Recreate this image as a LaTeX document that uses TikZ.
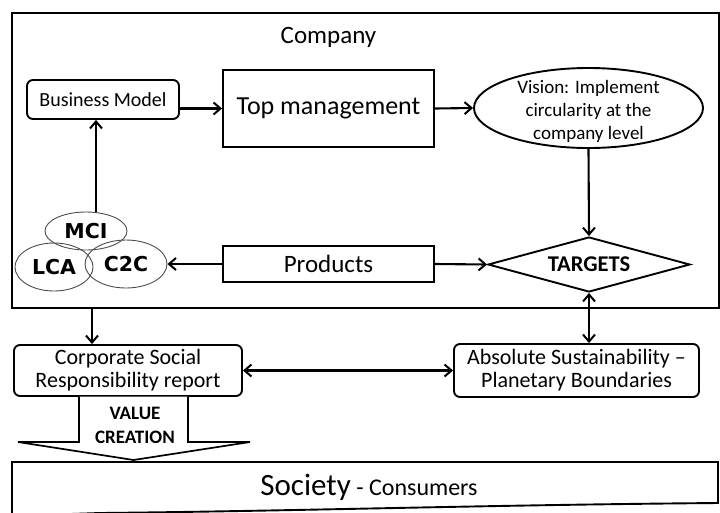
\documentclass[tikz,border=0pt]{standalone}
\usepackage{fontspec}
\setmainfont{Carlito}
\newfontfamily\verd{DejaVu Sans}
\usetikzlibrary{arrows.meta,shapes.geometric}
\begin{document}
\begin{tikzpicture}[x=1pt,y=-1pt,
  box/.style={draw,line width=1.9pt,inner sep=0pt,align=center},
  rbox/.style={box,rounded corners=6pt},
  circ/.style={draw=black!70,line width=0.9pt,ellipse,inner sep=0pt,font=\verd\bfseries\fontsize{20.5}{22}\selectfont},
  tip/.tip={Straight Barb[length=7pt,width=12pt,line width=2pt]},
  arr/.style={-tip,line width=2.1pt},
  darr/.style={tip-tip,line width=2.1pt}
]
\useasboundingbox (0,0) rectangle (720,512);
% Company frame
\node[box,minimum width=707pt,minimum height=295pt] (company) at (365.5,160.5) {};
\node[anchor=base,font=\fontsize{25}{30}\selectfont] (ctitle) at (328.5,43) {Company};
% nodes inside company
\node[rbox,minimum width=152pt,minimum height=39pt,font=\fontsize{20}{24}\selectfont] (bm) at (103,99.5) {Business Model};
\node[box,minimum width=211pt,minimum height=77pt,font=\fontsize{26}{30}\selectfont] (tm) at (328.5,108.5) {Top management};
\node[box,ellipse,minimum width=229pt,minimum height=80pt] (vis) at (588.5,108) {};
\node[align=center,font=\fontsize{19}{23}\selectfont] (vistext) at (588.5,111) {Vision: Implement\\circularity at the\\company level};
\node[box,minimum width=211pt,minimum height=36pt,font=\fontsize{25}{30}\selectfont] (prod) at (328.5,264) {Products};
\node[box,diamond,minimum width=202pt,minimum height=55pt] (tgt) at (589,264.5) {};
\node[font=\bfseries\fontsize{22.5}{24}\selectfont] (tgttext) at (tgt) {TARGETS};
% methods
\node[circ,minimum width=82pt,minimum height=38pt] (mci) at (86,231) {MCI};
\node[circ,minimum width=78pt,minimum height=48pt] (lca) at (54,267) {LCA};
\node[circ,minimum width=82pt,minimum height=48pt] (c2c) at (126,264) {C2C};
% lower boxes
\node[rbox,minimum width=228pt,minimum height=51pt,font=\fontsize{22}{23}\selectfont] (csr) at (128,370.5) {Corporate Social\\Responsibility report};
\node[rbox,minimum width=245pt,minimum height=53pt,font=\fontsize{22}{23}\selectfont] (as) at (576.5,370.5) {Absolute Sustainability –\\Planetary Boundaries};
% Society
\draw[line width=1.9pt,fill=white] (12,516) -- (12,462) -- (718,462) -- (718,503)
  .. controls (480,505) and (300,511) .. (100,513) -- (12,516);
\node[anchor=base] (soc) at (369,495) {\fontsize{31}{34}\selectfont Society\fontsize{24}{28}\selectfont{} - Consumers};
% value creation arrow
\draw[line width=1.7pt,fill=white] (79,396.5) -- (79,442) -- (18,442) -- (133.5,460) -- (250,442) -- (188,442) -- (188,396.5);
\node[align=center,font=\bfseries\fontsize{19}{24}\selectfont] (vc) at (135,425) {VALUE\\CREATION};
% connectors
\coordinate (xm) at (96,0);
\coordinate (xc) at (92,0);
\draw[arr] (bm.east |- tm.west) -- (tm.west);
\draw[arr] (tm.east) -- (vis.west);
\draw[arr] (vis.south) -- (tgt.north);
\draw[arr] (prod.east) -- (tgt.west);
\draw[arr] (prod.west) -- (c2c.east);
\draw[arr] (mci.north -| xm) -- (bm.south -| xm);
\draw[arr] (company.south -| xc) -- (csr.north -| xc);
\draw[darr] (tgt.south) -- (as.north -| tgt.south);
\draw[darr] (csr.east) -- (as.west);
\end{tikzpicture}
\end{document}
